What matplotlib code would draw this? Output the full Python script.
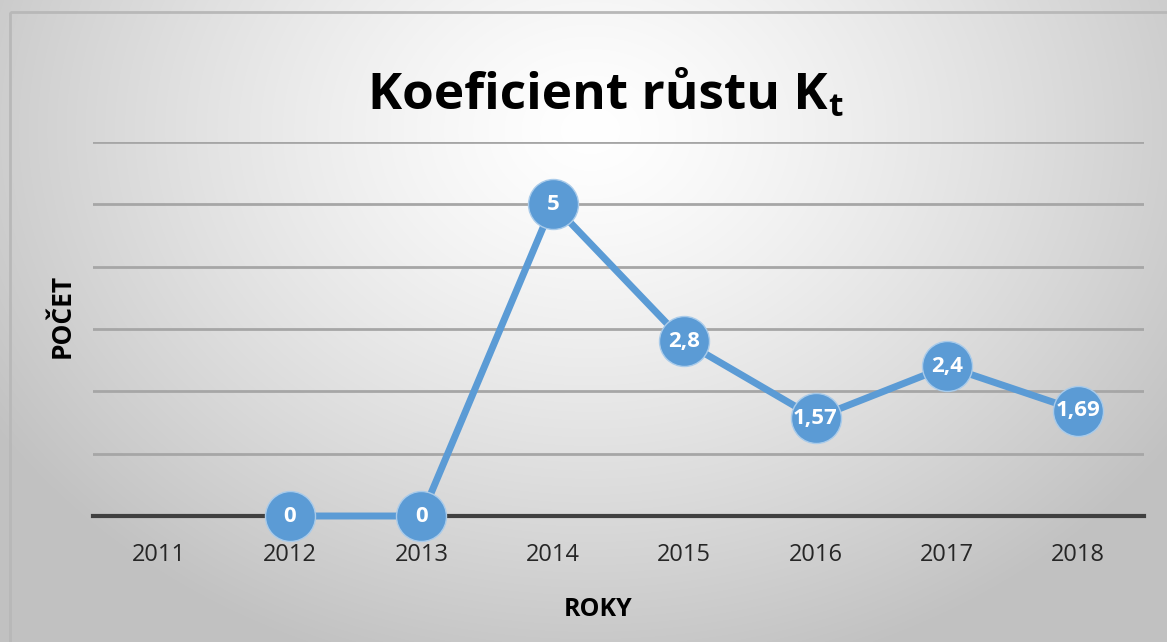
import numpy as np
import matplotlib
matplotlib.use("Agg")
import matplotlib.pyplot as plt
from matplotlib.patches import Rectangle

years = ["2011", "2012", "2013", "2014", "2015", "2016", "2017", "2018"]
values = [np.nan, 0, 0, 5, 2.8, 1.57, 2.4, 1.69]
labels = ["", "0", "0", "5", "2,8", "1,57", "2,4", "1,69"]
title_main = "Koeficient růstu K"
title_sub = "t"
xlabel = "ROKY"
ylabel = "POČET"

plt.rcParams['font.family'] = ['Open Sans', 'DejaVu Sans']

W, H = 1167, 642
fig = plt.figure(figsize=(W / 100, H / 100), dpi=100)

# radial gradient background
bg = fig.add_axes([0, 0, 1, 1], zorder=-10)
yy, xx = np.mgrid[0:H, 0:W]
cx, cy = 590, 130
d = np.sqrt(((xx - cx) / 700.0) ** 2 + ((yy - cy) / 560.0) ** 2)
d = np.clip(d, 0, 1)
g = 1.0 - 0.24 * d ** 1.3
img = np.dstack([g, g, g])
bg.imshow(img, extent=[0, W, H, 0], aspect='auto', interpolation='bilinear')
bg.set_xlim(0, W)
bg.set_ylim(H, 0)
bg.axis('off')
bg.add_patch(Rectangle((10, 12), W + 20, H + 20, fill=False,
                       edgecolor='#B8B8B8', linewidth=2))

left, right = 93 / W, 1144 / W
bottom, top = 1 - 516 / H, 1 - 142 / H
ax = fig.add_axes([left, bottom, right - left, top - bottom])
ax.patch.set_alpha(0)

x = np.arange(len(years))
ax.set_xlim(-0.5, len(years) - 0.5)
ax.set_ylim(0, 6)
ax.set_yticks(np.arange(0, 7, 1))
ax.yaxis.grid(True, color='#A6A6A6', linewidth=2)
ax.set_axisbelow(True)
for s in ['top', 'right', 'left']:
    ax.spines[s].set_visible(False)
ax.spines['bottom'].set_color('#404040')
ax.spines['bottom'].set_linewidth(3)
ax.spines['bottom'].set_zorder(1)
ax.tick_params(axis='y', left=False, labelleft=False)
ax.tick_params(axis='x', bottom=False, pad=16)
ax.set_xticks(x)
ax.set_xticklabels(years, fontsize=17, color='#262626')

blue = '#5B9BD5'
ax.plot(x, values, color=blue, linewidth=5, marker='o', markersize=36,
        markerfacecolor=blue, markeredgecolor='#A9CBEA', markeredgewidth=1,
        clip_on=False, zorder=3)
for xi, v, lab in zip(x, values, labels):
    if np.isnan(v):
        continue
    ax.text(xi, v, lab, ha='center', va='center', color='white',
            fontsize=16, fontweight='bold', zorder=4, clip_on=False)

t1 = fig.text(0.512, 1 - 96 / H, title_main, ha='center', va='center',
              fontsize=37, fontweight='bold', color='black')
ax.annotate(title_sub, xy=(1, 0.1), xycoords=t1, xytext=(1, -6),
            textcoords='offset points', ha='left', va='bottom',
            fontsize=24, fontweight='bold', color='black')

fig.text(598 / W, 1 - 610 / H, xlabel, ha='center', va='center',
         fontsize=18, fontweight='bold', color='black')
fig.text(62 / W, 1 - 316 / H, ylabel, ha='center', va='center',
         rotation=90, fontsize=19, fontweight='bold', color='black')

fig.savefig('out.png', dpi=100)
